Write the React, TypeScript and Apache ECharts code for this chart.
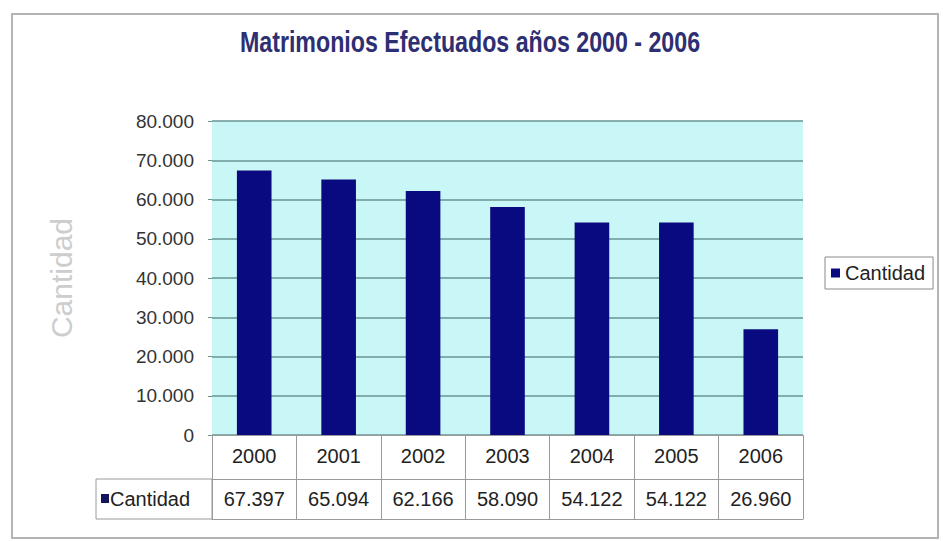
import React, { useEffect, useRef } from "react";
import * as echarts from "echarts";

const titleText = "Matrimonios Efectuados años 2000 - 2006";
const seriesName = "Cantidad";
const years = ["2000", "2001", "2002", "2003", "2004", "2005", "2006"];
const values = [67397, 65094, 62166, 58090, 54122, 54122, 26960];
const yMin = 0;
const yMax = 80000;
const yInterval = 10000;

const fmt = (n: number) => String(n).replace(/\B(?=(\d{3})+(?!\d))/g, ".");

export default function App() {
  const ref = useRef<HTMLDivElement>(null);
  useEffect(() => {
    if (!ref.current) return;
    const chart = echarts.init(ref.current, undefined, { renderer: "svg" });
    const tableLine = "#9a9a9a";
    chart.setOption({
      animation: false,
      backgroundColor: "#ffffff",
      legend: {
        show: true,
        data: [seriesName],
        left: 825,
        top: 257,
        orient: "vertical",
        icon: "rect",
        itemWidth: 9,
        itemHeight: 9,
        itemGap: 4,
        padding: [6, 8, 6, 6],
        borderColor: "#8a8a8a",
        borderWidth: 1,
        textStyle: { fontFamily: "Liberation Sans", fontSize: 20, color: "#222" },
      },
      grid: {
        left: 212,
        right: 140,
        top: 121,
        bottom: 106,
        show: true,
        backgroundColor: "#c9f7f7",
        borderWidth: 0,
      },
      xAxis: [
        {
          type: "category",
          data: years,
          position: "bottom",
          axisLine: { show: true, lineStyle: { color: tableLine, width: 1 } },
          axisTick: { show: true, length: 84, lineStyle: { color: tableLine } },
          axisLabel: {
            margin: 11,
            fontFamily: "Liberation Sans",
            fontSize: 20,
            color: "#222",
          },
        },
        {
          type: "category",
          data: years,
          position: "bottom",
          offset: 44,
          axisLine: { show: true, lineStyle: { color: tableLine, width: 1 } },
          axisTick: { show: false },
          axisLabel: {
            margin: 10,
            fontFamily: "Liberation Sans",
            fontSize: 20,
            color: "#222",
            formatter: (_v: string, i: number) => fmt(values[i]),
          },
        },
        {
          type: "category",
          data: years,
          position: "bottom",
          offset: 84,
          axisLine: { show: true, lineStyle: { color: tableLine, width: 1 } },
          axisTick: { show: false },
          axisLabel: { show: false },
        },
      ],
      yAxis: {
        type: "value",
        min: yMin,
        max: yMax,
        interval: yInterval,
        name: seriesName,
        nameLocation: "middle",
        nameGap: 136,
        nameTextStyle: { fontFamily: "Liberation Sans", fontSize: 30, color: "#cdcdcd" },
        axisLine: { show: false },
        axisTick: { show: true, length: 4, lineStyle: { color: "#6a9595" } },
        axisLabel: {
          margin: 18,
          fontFamily: "Liberation Sans",
          fontSize: 19,
          color: "#333",
          formatter: (v: number) => fmt(v),
        },
        splitLine: { show: true, lineStyle: { color: "#6a9595", width: 1.5 } },
      },
      series: [
        {
          name: seriesName,
          type: "bar",
          data: values,
          barWidth: "41%",
          itemStyle: { color: "#0a0a80" },
        },
      ],
      graphic: [
        {
          type: "rect",
          shape: { x: 12, y: 14, width: 926, height: 524 },
          style: { fill: "none", stroke: "#b4b4b4", lineWidth: 2 },
          silent: true,
        },
        {
          type: "text",
          x: 470,
          y: 42,
          scaleX: 0.8,
          style: {
            text: titleText,
            fontFamily: "Liberation Sans",
            fontWeight: "bold",
            fontSize: 29,
            fill: "#2e2e72",
            align: "center",
            verticalAlign: "middle",
          },
          silent: true,
        },
        {
          type: "rect",
          shape: { x: 96, y: 479, width: 116, height: 40 },
          style: { fill: "none", stroke: tableLine, lineWidth: 1 },
          silent: true,
        },
        {
          type: "rect",
          shape: { x: 101, y: 494, width: 8, height: 9 },
          style: { fill: "#14145c" },
          silent: true,
        },
        {
          type: "text",
          x: 110,
          y: 499,
          style: {
            text: seriesName,
            fontFamily: "Liberation Sans",
            fontSize: 20,
            fill: "#222",
            verticalAlign: "middle",
          },
          silent: true,
        },
      ],
    });
    return () => chart.dispose();
  }, []);
  return (
    <div
      ref={ref}
      style={{ position: "fixed", left: 0, top: 0, width: 943, height: 541 }}
    />
  );
}
